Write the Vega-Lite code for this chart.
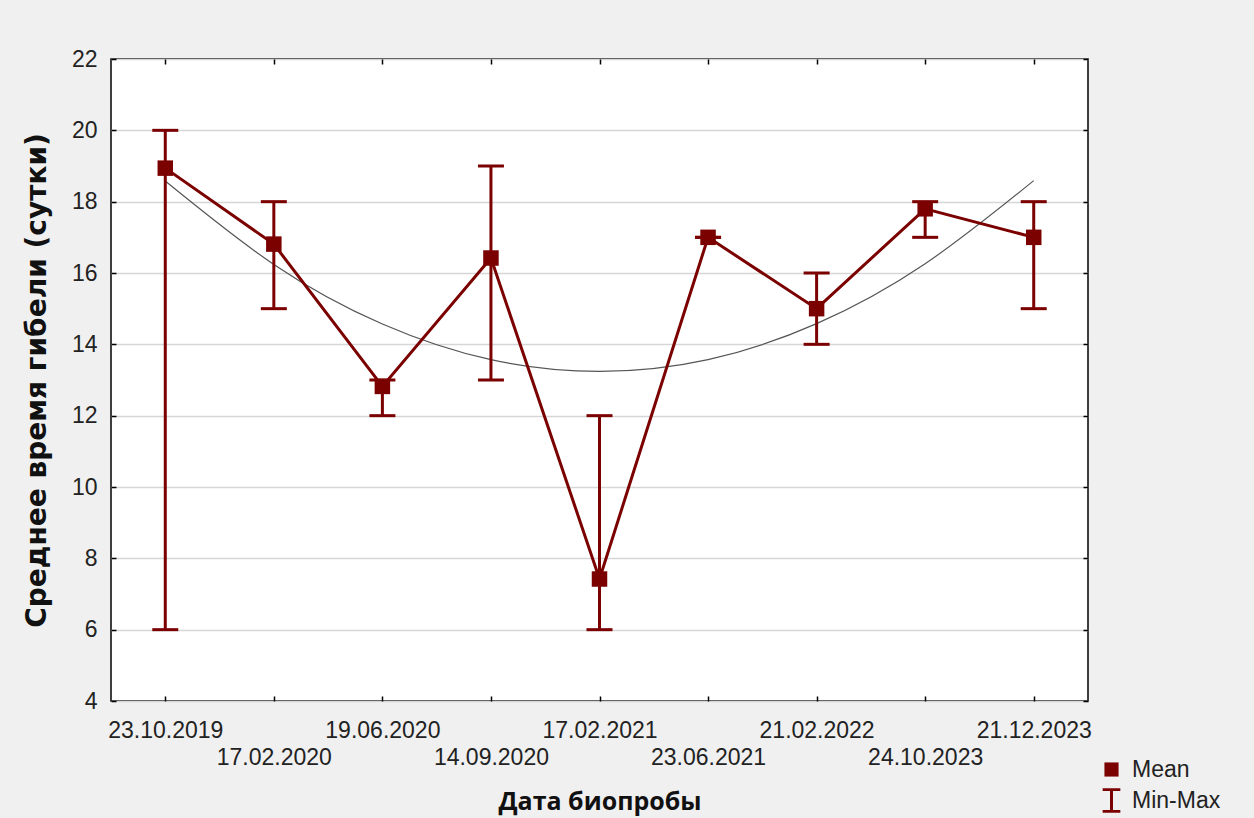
{
  "$schema": "https://vega.github.io/schema/vega-lite/v6.json",
  "width": 977,
  "height": 642,
  "autosize": {"type": "none"},
  "padding": {"left": 111, "top": 59, "right": 166, "bottom": 117},
  "background": "#f0f0f0",
  "config": {
    "view": {"stroke": "#000000", "strokeWidth": 1.5, "fill": "#ffffff"},
    "font": "Liberation Sans",
    "axisY": {
      "labelFontSize": 23, "labelColor": "#222222", "labelPadding": 19,
      "tickSize": -5, "tickColor": "#000000", "tickWidth": 1.5, "domain": false, "grid": true, "gridColor": "#d6d6d6", "gridWidth": 1.5,
      "tickCount": 10,
      "titleFont": "DejaVu Sans", "titleFontSize": 28, "titleFontWeight": "bold", "titleColor": "#111111", "titlePadding": 20
    },
    "axisX": {
      "labelFontSize": 23, "labelColor": "#222222", "labelAngle": 0, "labelPadding": 23,
      "labelLineHeight": 27, "tickSize": -5, "tickColor": "#000000", "tickWidth": 1.5, "domain": false, "grid": false,
      "titleFont": "Open Sans", "titleFontSize": 25, "titleFontWeight": "bold", "titleColor": "#111111", "titlePadding": 20
    }
  },
  "data": {
    "values": [
      {"date": "23.10.2019", "mean": 18.94, "min": 6, "max": 20, "trend": 18.58},
      {"date": "17.02.2020", "mean": 16.81, "min": 15, "max": 18, "trend": 16.24},
      {"date": "19.06.2020", "mean": 12.82, "min": 12, "max": 13, "trend": 14.57},
      {"date": "14.09.2020", "mean": 16.42, "min": 13, "max": 19, "trend": 13.57},
      {"date": "17.02.2021", "mean": 7.42, "min": 6, "max": 12, "trend": 13.24},
      {"date": "23.06.2021", "mean": 17.0, "min": 17, "max": 17, "trend": 13.57},
      {"date": "21.02.2022", "mean": 15.0, "min": 14, "max": 16, "trend": 14.58},
      {"date": "24.10.2023", "mean": 17.8, "min": 17, "max": 18, "trend": 16.26},
      {"date": "21.12.2023", "mean": 17.0, "min": 15, "max": 18, "trend": 18.59}
    ]
  },
  "resolve": {"axis": {"x": "independent", "y": "independent"}},
  "layer": [
    {
      "mark": {"type": "line", "interpolate": "natural", "color": "#555555", "strokeWidth": 1.2},
      "encoding": {
        "x": {
          "field": "date", "type": "nominal", "sort": null,
          "scale": {"type": "point", "padding": 0.5},
          "axis": {
            "orient": "bottom",
            "title": "Дата биопробы",
            "labelExpr": "indexof(['17.02.2020','14.09.2020','23.06.2021','24.10.2023'], datum.value) >= 0 ? ['', datum.value] : datum.value"
          }
        },
        "y": {"field": "trend", "type": "quantitative", "scale": {"domain": [4, 22], "nice": false, "zero": false},
          "axis": {"orient": "left", "title": "Среднее время гибели (сутки)"}}
      }
    },
    {
      "mark": {"type": "rule", "color": "#7b0000", "strokeWidth": 3},
      "encoding": {
        "x": {"field": "date", "type": "nominal", "sort": null, "scale": {"type": "point", "padding": 0.5},
          "axis": {"orient": "top", "labels": false, "title": null}},
        "y": {"field": "min", "type": "quantitative", "scale": {"domain": [4, 22], "nice": false, "zero": false},
          "axis": {"orient": "right", "labels": false, "title": null, "grid": false}},
        "y2": {"field": "max"}
      }
    },
    {
      "mark": {"type": "tick", "orient": "horizontal", "color": "#7b0000", "size": 26, "thickness": 3, "opacity": 1},
      "encoding": {
        "x": {"field": "date", "type": "nominal", "sort": null, "scale": {"type": "point", "padding": 0.5}, "axis": null},
        "y": {"field": "min", "type": "quantitative", "scale": {"domain": [4, 22], "nice": false, "zero": false}, "axis": null}
      }
    },
    {
      "mark": {"type": "tick", "orient": "horizontal", "color": "#7b0000", "size": 26, "thickness": 3, "opacity": 1},
      "encoding": {
        "x": {"field": "date", "type": "nominal", "sort": null, "scale": {"type": "point", "padding": 0.5}, "axis": null},
        "y": {"field": "max", "type": "quantitative", "scale": {"domain": [4, 22], "nice": false, "zero": false}, "axis": null}
      }
    },
    {
      "mark": {"type": "line", "color": "#7b0000", "strokeWidth": 3},
      "encoding": {
        "x": {"field": "date", "type": "nominal", "sort": null, "scale": {"type": "point", "padding": 0.5}, "axis": null},
        "y": {"field": "mean", "type": "quantitative", "scale": {"domain": [4, 22], "nice": false, "zero": false}, "axis": null}
      }
    },
    {
      "mark": {"type": "point", "filled": true, "color": "#7b0000", "size": 240, "opacity": 1},
      "encoding": {
        "x": {"field": "date", "type": "nominal", "sort": null, "scale": {"type": "point", "padding": 0.5}, "axis": null},
        "y": {"field": "mean", "type": "quantitative", "scale": {"domain": [4, 22], "nice": false, "zero": false}, "axis": null},
        "shape": {
          "datum": "Mean",
          "scale": {"domain": ["Mean", "Min-Max"], "range": ["square", "M-1.25,-1.75H1.25V-1.35H0.21V1.35H1.25V1.75H-1.25V1.35H-0.21V-1.35H-1.25Z"]},
          "legend": {
            "title": null, "orient": "none", "legendX": 989, "legendY": 699,
            "labelFontSize": 23, "labelColor": "#222222", "symbolSize": 200,
            "symbolFillColor": "#7b0000", "symbolStrokeColor": "#7b0000", "symbolStrokeWidth": 0,
            "rowPadding": 6, "labelOffset": 9
          }
        }
      }
    }
  ]
}
